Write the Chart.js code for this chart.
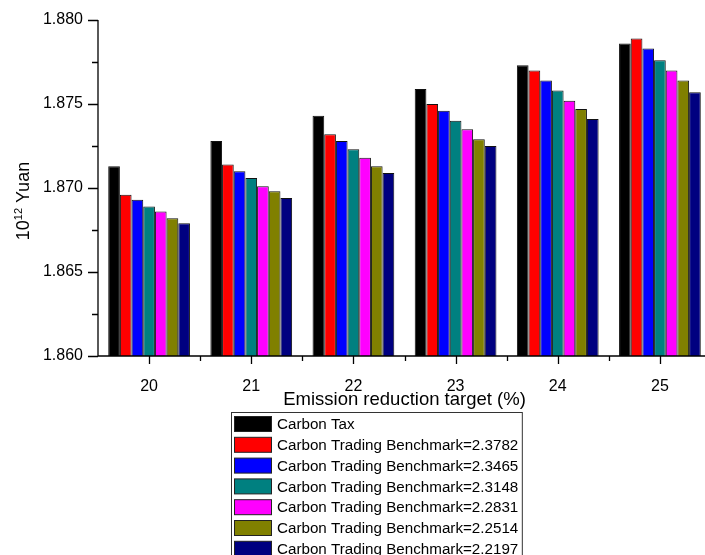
<!DOCTYPE html>
<html>
<head>
<meta charset="utf-8">
<script src="https://cdn.jsdelivr.net/npm/chart.js@4.4.0/dist/chart.umd.min.js"></script>
<style>
  html, body { margin:0; padding:0; background:#fff; overflow:hidden; }
  #wrap { width:716px; height:555px; }
</style>
</head>
<body>
<div id="wrap"><canvas id="chart" width="716" height="555"></canvas></div>
<script>
// ---- data ----
const targets = ['20', '21', '22', '23', '24', '25'];
const seriesNames = [
  'Carbon Tax',
  'Carbon Trading Benchmark=2.3782',
  'Carbon Trading Benchmark=2.3465',
  'Carbon Trading Benchmark=2.3148',
  'Carbon Trading Benchmark=2.2831',
  'Carbon Trading Benchmark=2.2514',
  'Carbon Trading Benchmark=2.2197'
];
const carbonTax = [1.8713, 1.8728, 1.8743, 1.8759, 1.8773, 1.8786];
const ct23782   = [1.8696, 1.8714, 1.8732, 1.8750, 1.8770, 1.8789];
const ct23465   = [1.8693, 1.8710, 1.8728, 1.8746, 1.8764, 1.8783];
const ct23148   = [1.8689, 1.8706, 1.8723, 1.8740, 1.8758, 1.8776];
const ct22831   = [1.8686, 1.8701, 1.8718, 1.8735, 1.8752, 1.8770];
const ct22514   = [1.8682, 1.8698, 1.8713, 1.8729, 1.8747, 1.8764];
const ct22197   = [1.8679, 1.8694, 1.8709, 1.8725, 1.8741, 1.8757];
const seriesValues = [carbonTax, ct23782, ct23465, ct23148, ct22831, ct22514, ct22197];
const colors = ['#000000', '#FF0000', '#0000FF', '#008080', '#FF00FF', '#808000', '#000080'];
const xTitle = 'Emission reduction target (%)';

const yMin = 1.860, yMax = 1.880, yStep = 0.005;
const FONT = 'Arial, "Liberation Sans", sans-serif';

// axes, tick marks, axis titles and the boxed legend
const decorations = {
  id: 'decorations',
  afterDraw(chart) {
    const ctx = chart.ctx, a = chart.chartArea;
    const xs = chart.scales.x, ys = chart.scales.y;
    ctx.save();
    ctx.strokeStyle = '#000';
    ctx.lineWidth = 1.3;
    ctx.beginPath();
    ctx.moveTo(a.left, a.top); ctx.lineTo(a.left, a.bottom);
    ctx.lineTo(a.right, a.bottom);
    // y ticks: major every 0.005, minor in between
    for (let v = yMin; v <= yMax + 1e-9; v += yStep / 2) {
      const y = Math.round(ys.getPixelForValue(v)) + 0.5;
      const major = Math.abs(Math.round((v - yMin) / yStep) * yStep - (v - yMin)) < 1e-7;
      ctx.moveTo(a.left, y); ctx.lineTo(a.left - (major ? 10 : 6), y);
    }
    // x ticks: major at categories, minor at boundaries
    const half = (xs.getPixelForValue(1) - xs.getPixelForValue(0)) / 2;
    targets.forEach((t, i) => {
      const x = Math.round(xs.getPixelForValue(i)) + 0.5;
      ctx.moveTo(x, a.bottom); ctx.lineTo(x, a.bottom + 8);
      const xb = Math.round(xs.getPixelForValue(i) + half) + 0.5;
      ctx.moveTo(xb, a.bottom); ctx.lineTo(xb, a.bottom + 5);
    });
    ctx.stroke();

    // x title
    ctx.fillStyle = '#000';
    ctx.font = '18.5px ' + FONT;
    ctx.textAlign = 'center';
    ctx.textBaseline = 'middle';
    ctx.fillText(xTitle, (a.left + a.right) / 2, a.bottom + 44);

    // y title: 10^12 Yuan
    ctx.textAlign = 'left';
    ctx.translate(29, (a.top + a.bottom) / 2 + 13);
    ctx.rotate(-Math.PI / 2);
    ctx.textBaseline = 'alphabetic';
    ctx.font = '18px ' + FONT;
    const w10 = ctx.measureText('10').width;
    ctx.font = '11px ' + FONT;
    const w12 = ctx.measureText('12').width;
    ctx.font = '18px ' + FONT;
    const wY = ctx.measureText(' Yuan').width;
    let x0 = -(w10 + w12 + wY) / 2;
    ctx.fillText('10', x0, 0);
    ctx.font = '11px ' + FONT;
    ctx.fillText('12', x0 + w10, -7);
    ctx.font = '18px ' + FONT;
    ctx.fillText(' Yuan', x0 + w10 + w12, 0);
    ctx.restore();

    // legend
    ctx.save();
    ctx.font = '15.2px ' + FONT;
    const sets = chart.data.datasets;
    let maxW = 0;
    sets.forEach(d => { maxW = Math.max(maxW, ctx.measureText(d.label).width); });
    const lx = 231.5, ly = 412.5, pitch = 20.8;
    const textX = 277;
    ctx.strokeStyle = '#333';
    ctx.lineWidth = 1;
    ctx.strokeRect(lx, ly, textX + maxW + 4 - lx, sets.length * pitch + 6);
    ctx.textBaseline = 'middle';
    sets.forEach((d, i) => {
      const cy = 424 + i * pitch;
      ctx.fillStyle = d.backgroundColor;
      ctx.fillRect(234, cy - 7.5, 38, 15);
      ctx.strokeStyle = '#222';
      ctx.strokeRect(234.5, cy - 7.5, 37, 15);
      ctx.fillStyle = '#000';
      ctx.fillText(d.label, textX, cy + 1);
    });
    ctx.restore();
  }
};

new Chart(document.getElementById('chart'), {
  type: 'bar',
  data: {
    labels: targets,
    datasets: seriesNames.map((name, i) => ({
      label: name,
      data: seriesValues[i],
      backgroundColor: colors[i],
      borderColor: '#111',
      borderWidth: 1,
      borderSkipped: 'bottom',
      categoryPercentage: 0.8,
      barPercentage: 1.0
    }))
  },
  options: {
    responsive: false,
    animation: false,
    layout: { padding: { left: 0, top: 20, right: 5, bottom: 0 } },
    plugins: { legend: { display: false }, tooltip: { enabled: false } },
    scales: {
      x: {
        grid: { display: false },
        border: { display: false },
        ticks: { color: '#000', font: { family: FONT, size: 16 }, padding: 13, maxRotation: 0 },
        afterFit(scale) { scale.height = 199; }
      },
      y: {
        min: yMin, max: yMax,
        grid: { display: false },
        border: { display: false },
        ticks: { stepSize: yStep, color: '#000', font: { family: FONT, size: 16 }, padding: 7,
                 callback: v => v.toFixed(3) },
        afterFit(scale) { scale.width = 98; }
      }
    }
  },
  plugins: [decorations]
});
</script>
</body>
</html>
